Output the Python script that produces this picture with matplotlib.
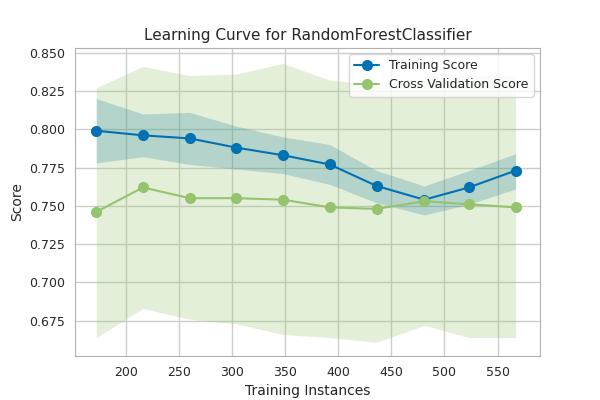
import matplotlib
matplotlib.use("Agg")
import matplotlib.pyplot as plt
import numpy as np
import seaborn as sns

sizes = [172, 216, 260, 304, 348, 392, 436, 481, 523, 567]
train = [0.799, 0.796, 0.794, 0.788, 0.783, 0.777, 0.763, 0.754, 0.762, 0.773]
train_hi = [0.820, 0.810, 0.811, 0.802, 0.795, 0.790, 0.773, 0.763, 0.773, 0.784]
train_lo = [0.778, 0.782, 0.777, 0.774, 0.771, 0.764, 0.752, 0.744, 0.751, 0.761]
cv = [0.746, 0.762, 0.755, 0.755, 0.754, 0.749, 0.748, 0.753, 0.751, 0.749]
cv_hi = [0.827, 0.841, 0.835, 0.836, 0.843, 0.832, 0.829, 0.833, 0.835, 0.835]
cv_lo = [0.664, 0.683, 0.676, 0.673, 0.666, 0.664, 0.661, 0.672, 0.664, 0.664]

sns.set_style("whitegrid")
plt.rcParams['font.family'] = ['DejaVu Sans']
blue = "#0072B2"
green = "#95c36e"

fig, ax = plt.subplots(figsize=(6, 4), dpi=100)
ax.fill_between(sizes, train_lo, train_hi, color=blue, alpha=0.25, lw=0)
ax.fill_between(sizes, cv_lo, cv_hi, color=green, alpha=0.25, lw=0)
ax.plot(sizes, train, "o-", color=blue, label="Training Score", ms=7, lw=1.5)
ax.plot(sizes, cv, "o-", color=green, label="Cross Validation Score", ms=7, lw=1.5)
ax.set_title("Learning Curve for RandomForestClassifier", fontsize=11)
ax.set_xlabel("Training Instances", fontsize=10)
ax.set_ylabel("Score", fontsize=10)
ax.set_ylim(0.652, 0.853)
ax.set_xlim(152, 590)
ax.set_yticks(np.arange(0.675, 0.851, 0.025))
ax.tick_params(labelsize=9)
ax.grid(color="#c8d0c8", lw=1)
for s in ax.spines.values():
    s.set_color("#b0b0b0")
ax.legend(loc="upper right", frameon=True, fontsize=9)
fig.subplots_adjust(left=0.125, right=0.9, top=0.88, bottom=0.11)
fig.savefig("out.png", dpi=100)
